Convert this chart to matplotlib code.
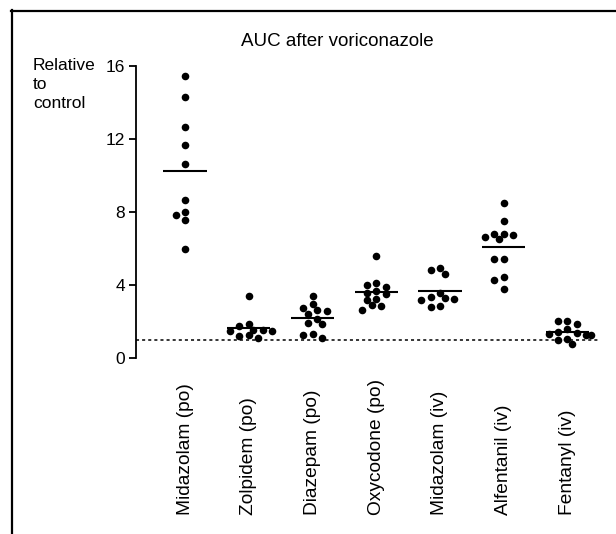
import numpy as np
import matplotlib.pyplot as plt
from matplotlib.lines import Line2D
from matplotlib.transforms import blended_transform_factory

plt.rcParams['font.family'] = ['Liberation Sans', 'DejaVu Sans']

# AUC relative to control, one value per subject
drugs = ["Midazolam (po)", "Zolpidem (po)", "Diazepam (po)", "Oxycodone (po)",
         "Midazolam (iv)", "Alfentanil (iv)", "Fentanyl (iv)"]
midazolam_po = [15.47, 14.3, 12.67, 11.67, 10.61, 8.66, 7.98, 7.84, 7.54, 5.97]
zolpidem_po = [3.41, 1.88, 1.75, 1.53, 1.50, 1.50, 1.53, 1.26, 1.11, 1.21]
diazepam_po = [3.41, 2.98, 2.63, 2.76, 2.59, 2.41, 2.15, 1.92, 1.88, 1.33, 1.08, 1.26]
oxycodone_po = [5.61, 4.09, 3.89, 3.98, 3.58, 3.65, 3.51, 3.21, 3.18, 2.90, 2.85, 2.65]
midazolam_iv = [4.93, 4.84, 4.58, 3.58, 3.18, 3.31, 3.34, 3.25, 2.81, 2.85]
alfentanil_iv = [8.49, 7.51, 6.65, 6.79, 6.50, 6.79, 6.76, 5.42, 5.42, 4.46, 4.26, 3.80]
fentanyl_iv = [2.01, 2.04, 1.86, 1.59, 1.44, 1.35, 1.30, 1.26, 1.26, 1.06, 0.97, 0.79]
groups = [midazolam_po, zolpidem_po, diazepam_po, oxycodone_po,
          midazolam_iv, alfentanil_iv, fentanyl_iv]
y_ticks = [0, 4, 8, 12, 16]
control_level = 1


def swarm_offsets(ax, x0, values, step_px=4.7, min_dist_px=6.8):
    # простая раскладка точек "пчелиный рой", в пикселях
    values = np.asarray(values)
    ys = ax.transData.transform(np.column_stack([np.full(len(values), x0), values]))[:, 1]
    order = np.argsort(-values)
    placed = []
    offs = np.zeros(len(values))
    for i in order:
        for k in [0, -1, 1, -2, 2, -3, 3, -4, 4, -5, 5]:
            dx = k * step_px
            if all((dx - px) ** 2 + (ys[i] - py) ** 2 >= min_dist_px ** 2 for px, py in placed):
                break
        placed.append((dx, ys[i]))
        offs[i] = dx
    px_per_unit = ax.transData.transform((1, 0))[0] - ax.transData.transform((0, 0))[0]
    return offs / px_per_unit


fig = plt.figure(figsize=(6.16, 5.34), dpi=100)
ax = fig.add_axes([136 / 616, 1 - 358 / 534, (598 - 136) / 616, (358 - 66) / 534])
ax.set_xlim(-0.77, len(drugs) - 1 + 0.48)
ax.set_ylim(0, 16)

for sp in ["top", "right", "bottom"]:
    ax.spines[sp].set_visible(False)
ax.spines["left"].set_linewidth(1.3)
ax.spines["left"].set_bounds(0, 16)
ax.set_yticks(y_ticks)
ax.set_yticklabels([str(t) for t in y_ticks])
ax.tick_params(axis="y", length=5, width=1.3, labelsize=12.5, pad=3)
ax.set_xticks([])

ax.axhline(control_level, color="black", lw=1.1, linestyle=(0, (2, 2)))

for i, vals in enumerate(groups):
    dx = swarm_offsets(ax, i, vals)
    ax.scatter(i + dx, vals, s=30, color="black", zorder=3, clip_on=False, linewidths=0)
    ax.hlines(np.mean(vals), i - 0.34, i + 0.34, color="black", lw=1.5, zorder=2)

trans = blended_transform_factory(ax.transData, fig.transFigure)
for i, name in enumerate(drugs):
    ax.text(i, 19 / 534, name, transform=trans, rotation=90, ha="center", va="bottom",
            fontsize=13.8)

fig.text(337 / 616, 1 - 42 / 534, "AUC after voriconazole", ha="center", va="center",
         fontsize=13.5)
fig.text(33 / 616, 1 - 58 / 534, "Relative\nto\ncontrol", ha="left", va="top",
         fontsize=12.5, linespacing=1.35)

# рамка панели (видны только верх и левый край)
fig.add_artist(Line2D([11 / 616, 1], [1 - 10.5 / 534] * 2, color="black", lw=1.6))
fig.add_artist(Line2D([11.5 / 616] * 2, [0, 1 - 10 / 534], color="black", lw=1.6))

fig.savefig("out.png", dpi=100)
